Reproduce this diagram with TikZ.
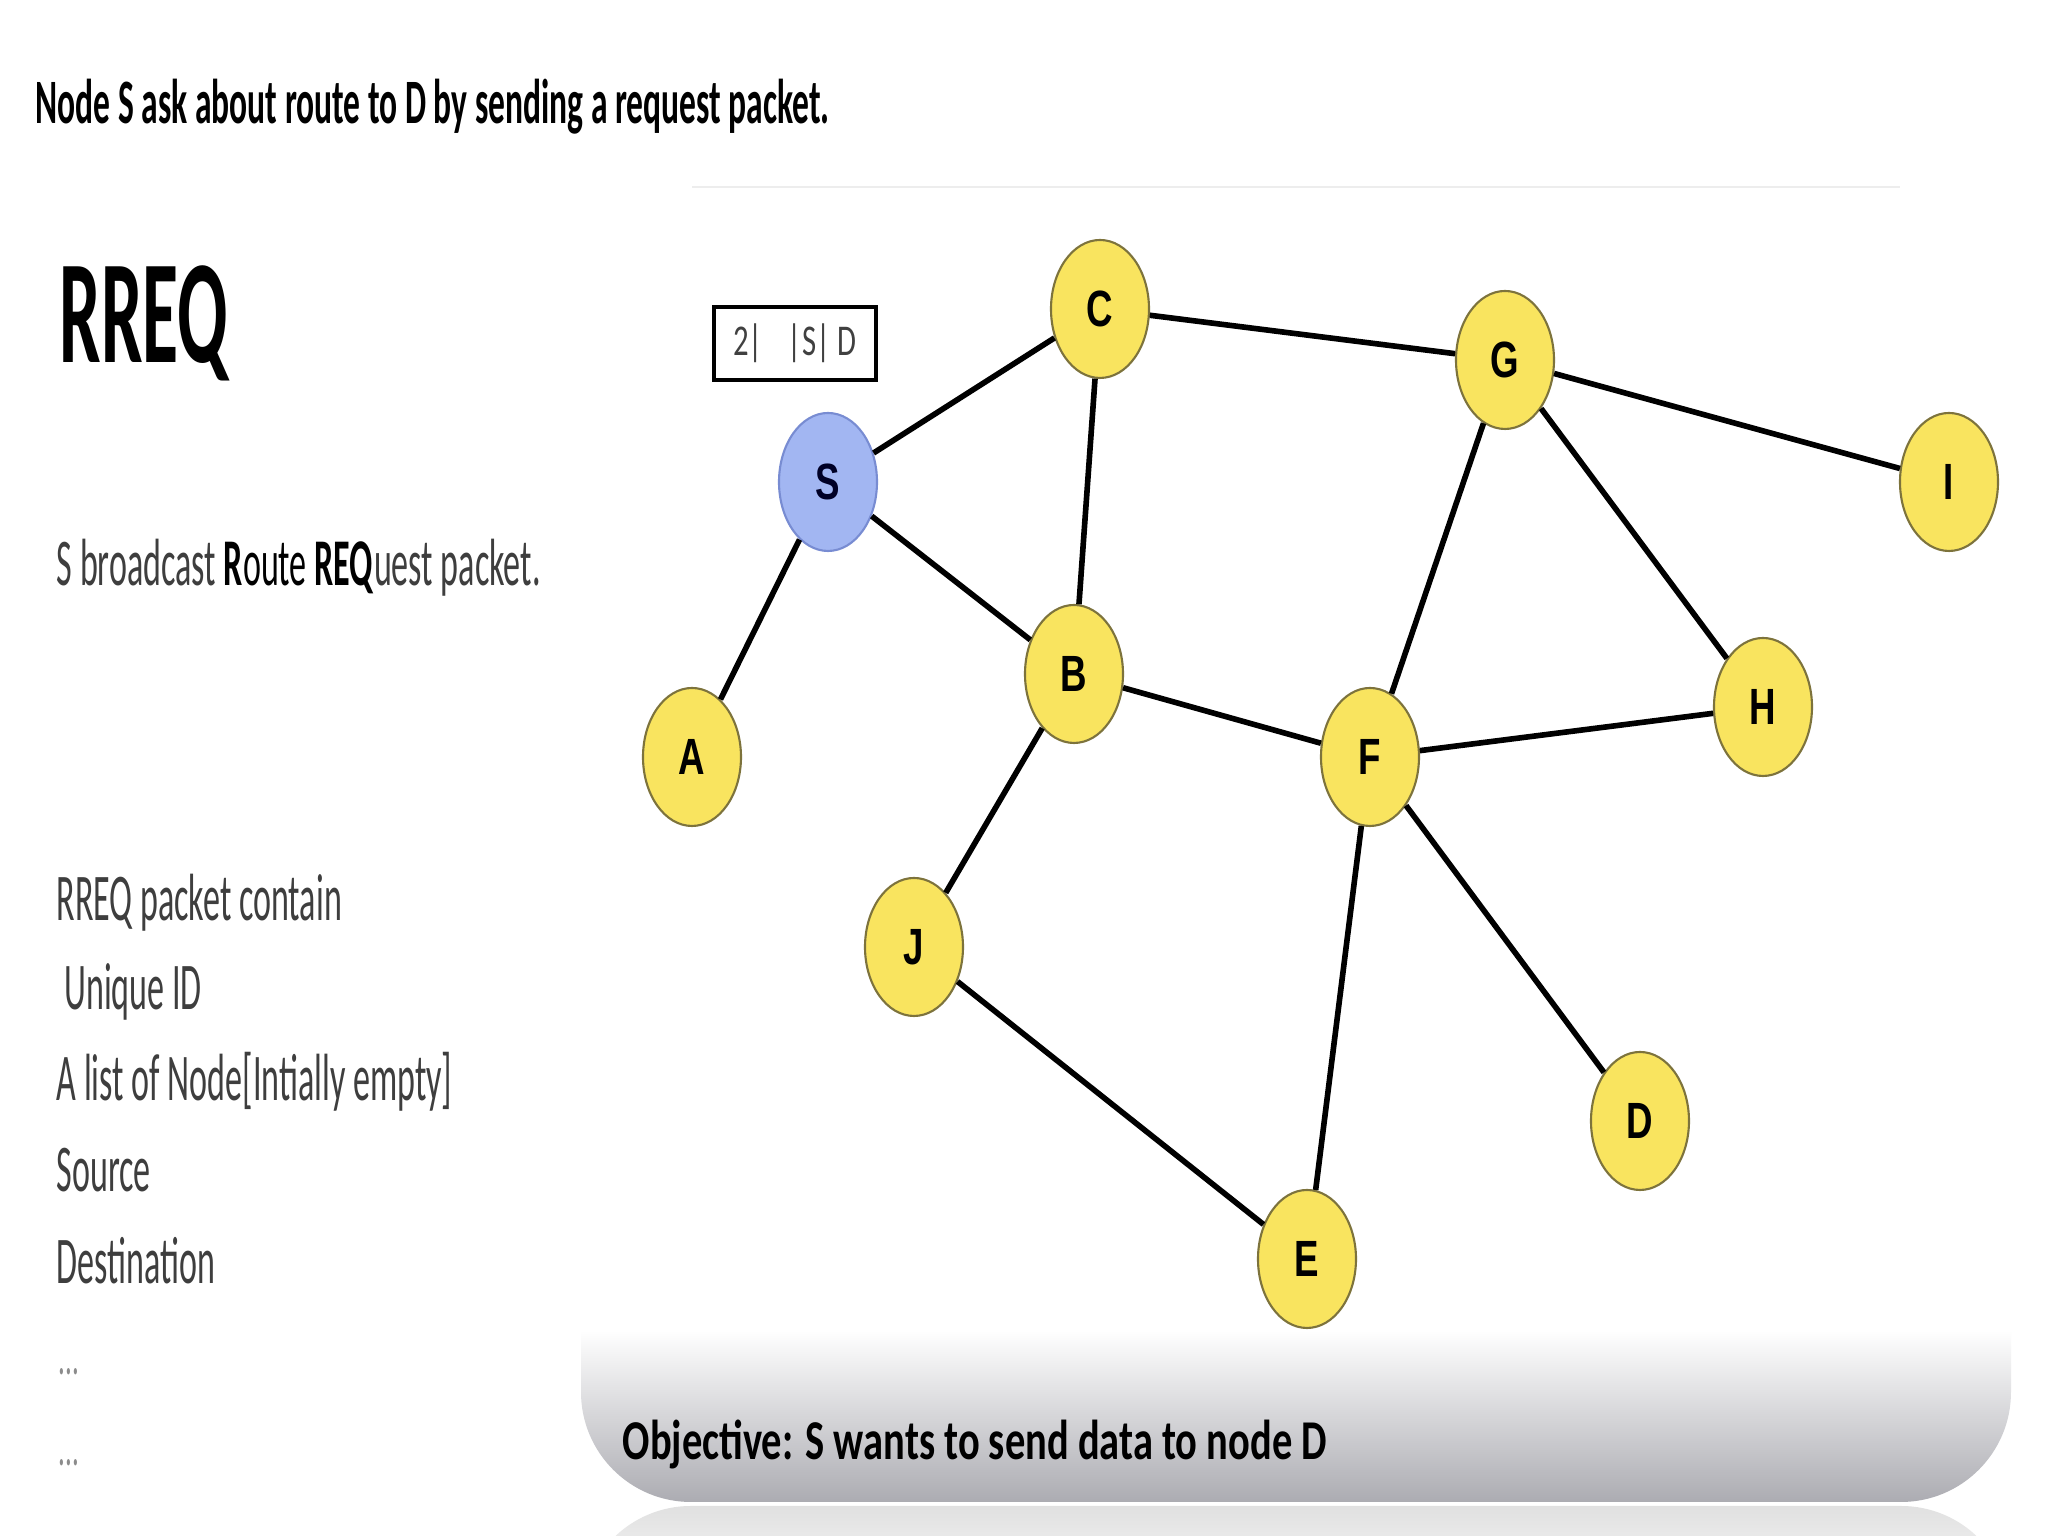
\documentclass[tikz,border=0pt]{standalone}
\usepackage{fontspec}
\setmainfont{Carlito}
\newfontfamily\headfont[FakeStretch=0.53]{Carlito}
\newfontfamily\bigfont[FakeStretch=0.50]{Carlito}
\newfontfamily\bodyfont[FakeStretch=0.51]{Carlito}
\newfontfamily\objfont[FakeStretch=0.72]{Carlito}
\newfontfamily\pktfont[FakeStretch=0.70]{Carlito}
\newfontfamily\nodefont[FakeStretch=0.72]{Liberation Sans}
\usetikzlibrary{shapes.geometric}
\definecolor{NodeYellow}{RGB}{249,228,95}
\definecolor{NodeRim}{RGB}{125,115,60}
\definecolor{SrcBlue}{RGB}{162,182,242}
\definecolor{SrcRim}{RGB}{120,140,210}
\definecolor{BodyGray}{RGB}{62,62,62}
\definecolor{PanelGray}{RGB}{172,172,178}
\newcommand{\moredots}{...}
\tikzset{
	nd/.style={ellipse,draw=NodeRim,fill=NodeYellow,line width=0.6pt,inner sep=0pt,
		minimum width=0.98cm,minimum height=1.38cm,
		font=\nodefont\bfseries\fontsize{14.5}{16}\selectfont},
	src/.style={nd,draw=SrcRim,fill=SrcBlue,text=black!85!blue},
	link/.style={draw=black,line width=1.6pt},
	pkt/.style={draw=black,line width=1.4pt,fill=white,minimum width=1.62cm,minimum height=0.73cm,
		inner sep=0pt,text=black!75,font=\pktfont\fontsize{12.5}{14}\selectfont},
	txt/.style={anchor=base west,inner sep=0pt},
}
\begin{document}
\begin{tikzpicture}
	\useasboundingbox (0,0) rectangle (20.48,15.36);
	\fill[white] (0,0) rectangle (20.48,15.36);
	% bottom panel and its reflection
	\begin{scope}
		\clip (0,0) rectangle (20.48,15.36);
		\shade[top color=white,middle color=black!8,bottom color=PanelGray]
			(5.81,2.06) -- (5.81,1.44) arc (180:270:1.1) -- (19.01,0.34) arc (270:360:1.1) -- (20.11,2.06) -- cycle;
		\shade[top color=black!12,bottom color=white]
			(5.81,-0.80) arc (180:90:1.1) -- (19.01,0.30) arc (90:0:1.1) -- cycle;
	\end{scope}
	\draw[black!7,line width=0.6pt] (6.92,13.49) -- (19.00,13.49);
	% texts
	\node[txt,font=\headfont\bfseries\fontsize{18}{20}\selectfont] (title) at (0.35,14.12)
		{Node S ask about route to D by sending a request packet.};
	\node[txt,font=\bigfont\bfseries\fontsize{42}{44}\selectfont] (rreq) at (0.59,11.73) {RREQ};
	\node[txt,text=BodyGray,font=\bodyfont\fontsize{19}{21}\selectfont] (bcast) at (0.56,9.50)
		{S broadcast {\color{black}\textbf{R}oute \textbf{REQ}}uest packet.};
	\foreach \y/\line in {6.15/RREQ packet contain,5.26/\ Unique ID,4.35/A list of Node[Intially empty],
		3.44/Source,2.52/Destination}
	\node[txt,text=BodyGray,font=\bodyfont\fontsize{19}{21}\selectfont] at (0.56,\y) {\line};
	\foreach \y in {1.61,0.70}
	\node[txt,text=black!45,font=\bodyfont\fontsize{15}{17}\selectfont] at (0.58,\y) {\moredots};
	\node[txt,font=\objfont\bfseries\fontsize{16}{18}\selectfont] (goal) at (6.22,0.76)
		{Objective: S wants to send data to node D};
	% network
	\node[src] (S) at (8.28,10.54) {S};
	\node[nd] (C) at (11.00,12.27) {C};
	\node[nd] (G) at (15.05,11.76) {G};
	\node[nd] (I) at (19.49,10.54) {I};
	\node[nd] (B) at (10.74,8.62) {B};
	\node[nd] (A) at (6.92,7.79) {A};
	\node[nd] (F) at (13.70,7.79) {F};
	\node[nd] (H) at (17.63,8.29) {H};
	\node[nd] (J) at (9.14,5.89) {J};
	\node[nd] (D) at (16.40,4.15) {D};
	\node[nd] (E) at (13.07,2.77) {E};
	\foreach \u/\v in {S/C,S/B,S/A,C/B,C/G,G/I,G/F,G/H,B/F,B/J,F/H,F/D,F/E,J/E}
	\draw[link] (\u) -- (\v);
	\node[pkt] (req) at (7.95,11.925) {2|\hspace{0.25cm}|S|\,D};
\end{tikzpicture}
\end{document}
